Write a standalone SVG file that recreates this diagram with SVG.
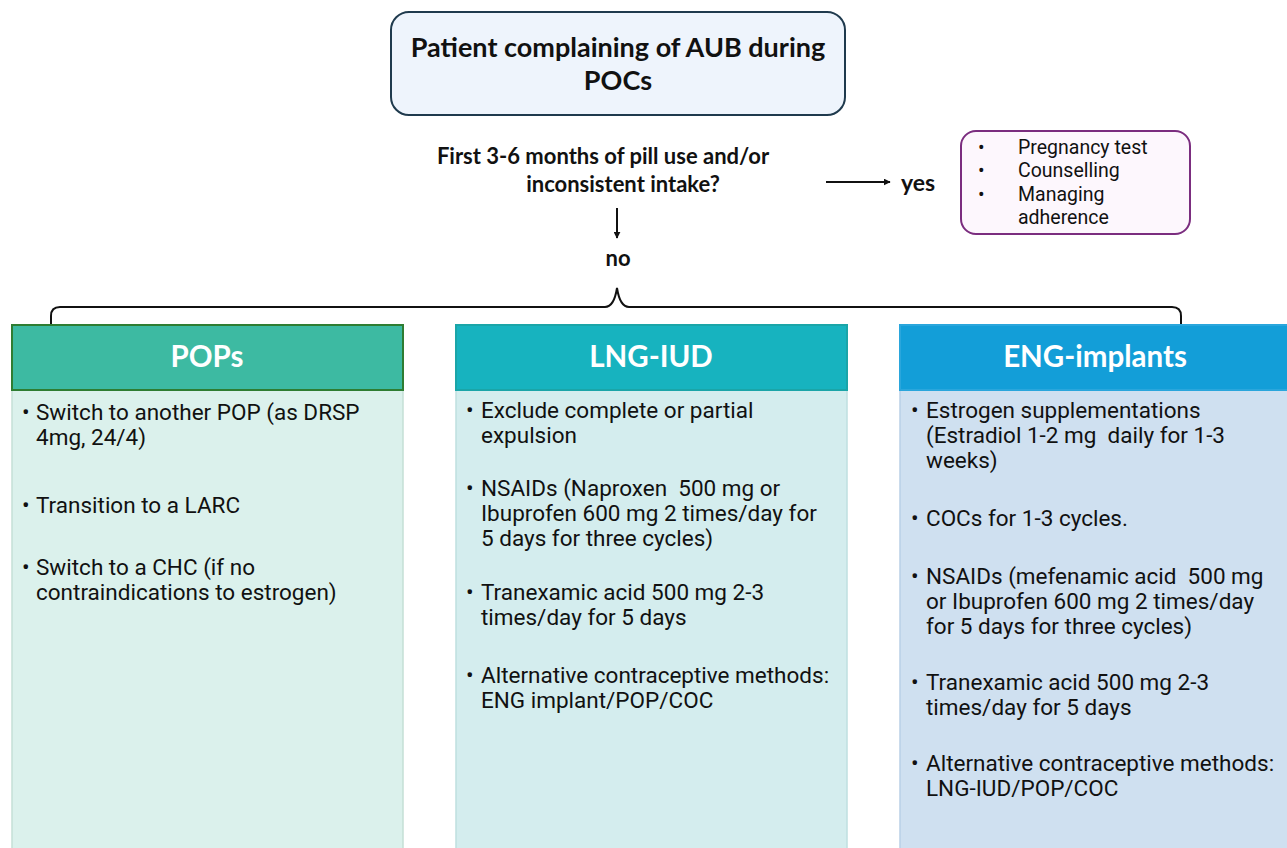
<svg xmlns="http://www.w3.org/2000/svg" width="1287" height="848" viewBox="0 0 1287 848">
<defs>
<marker id="ah" viewBox="0 0 10 10" refX="9" refY="5" markerWidth="7" markerHeight="7" orient="auto" markerUnits="userSpaceOnUse">
<path d="M0,0 L10,5 L0,10 Z" fill="#111"/>
</marker>
<style>
.hd{font-family:Lato,"Open Sans",sans-serif;font-weight:bold;fill:#111;text-anchor:middle}
.ht{font-family:Lato,"Open Sans",sans-serif;font-weight:bold;fill:#fff;text-anchor:middle;font-size:29.5px}
.bt{font-family:Roboto,"Liberation Sans",sans-serif;font-size:22.5px;fill:#111}
.st{font-family:Roboto,"Liberation Sans",sans-serif;font-size:19.5px;fill:#111}
.ln{fill:none;stroke:#111;stroke-width:2}
</style>
</defs>
<rect width="1287" height="848" fill="#fff"/>

<g id="start">
<rect x="391" y="12" width="454" height="103" rx="18" fill="#eef4fc" stroke="#1f3a4d" stroke-width="2"/>
<text class="hd" font-size="27" x="618" y="57">Patient complaining of AUB during</text>
<text class="hd" font-size="27" x="618" y="90">POCs</text>
</g>

<g id="question">
<text class="hd" font-size="22" x="603" y="164">First 3-6 months of pill use and/or</text>
<text class="hd" font-size="22" x="623" y="192">inconsistent intake?</text>
</g>

<g id="yes-label"><text class="hd" font-size="23" x="918" y="191">yes</text></g>
<g id="no-label"><text class="hd" font-size="22" x="618" y="266">no</text></g>

<g id="yes-box">
<rect x="961" y="131" width="229" height="103" rx="15" fill="#fdf7fd" stroke="#7b2d7f" stroke-width="2"/>
<text class="st" x="978" y="154">•</text><text class="st" x="1018" y="154">Pregnancy test</text>
<text class="st" x="978" y="177">•</text><text class="st" x="1018" y="177">Counselling</text>
<text class="st" x="978" y="201">•</text><text class="st" x="1018" y="201">Managing</text>
<text class="st" x="1018" y="224">adherence</text>
</g>

<g id="connectors">
<line class="ln" x1="826" y1="182" x2="890" y2="182" stroke-width="1.6" marker-end="url(#ah)"/>
<line class="ln" x1="617" y1="208" x2="617" y2="238" stroke-width="1.6" marker-end="url(#ah)"/>
<path class="ln" d="M51,325 L51,316 Q51,307 60,307 L605,307 Q614,307 617,288 Q620,307 629,307 L1172,307 Q1181,307 1181,316 L1181,325"/>
</g>

<g id="pops">
<rect x="12" y="390" width="391" height="470" fill="#dbf1ec" stroke="#c5dfd6" stroke-width="1.5"/>
<rect x="12" y="325" width="391" height="65" fill="#3dbaa2" stroke="#2e7d32" stroke-width="2"/>
<text class="ht" x="207" y="367">POPs</text>
<text class="bt" x="22" y="420">•</text><text class="bt" x="36" y="420">Switch to another POP (as DRSP</text>
<text class="bt" x="36" y="445">4mg, 24/4)</text>
<text class="bt" x="22" y="513">•</text><text class="bt" x="36" y="513">Transition to a LARC</text>
<text class="bt" x="22" y="575">•</text><text class="bt" x="36" y="575">Switch to a CHC (if no</text>
<text class="bt" x="36" y="600">contraindications to estrogen)</text>
</g>

<g id="lng-iud">
<rect x="456" y="390" width="391" height="470" fill="#d4edee" stroke="#bfdfe0" stroke-width="1.5"/>
<rect x="456" y="325" width="391" height="65" fill="#17b3bf" stroke="#1aa5a8" stroke-width="2"/>
<text class="ht" x="651" y="367">LNG-IUD</text>
<text class="bt" x="466" y="418">•</text><text class="bt" x="481" y="418">Exclude complete or partial</text>
<text class="bt" x="481" y="443">expulsion</text>
<text class="bt" x="466" y="496">•</text><text class="bt" x="481" y="496" xml:space="preserve">NSAIDs (Naproxen  500 mg or</text>
<text class="bt" x="481" y="521">Ibuprofen 600 mg 2 times/day for</text>
<text class="bt" x="481" y="546">5 days for three cycles)</text>
<text class="bt" x="466" y="600">•</text><text class="bt" x="481" y="600">Tranexamic acid 500 mg 2-3</text>
<text class="bt" x="481" y="625">times/day for 5 days</text>
<text class="bt" x="466" y="683">•</text><text class="bt" x="481" y="683">Alternative contraceptive methods:</text>
<text class="bt" x="481" y="708">ENG implant/POP/COC</text>
</g>

<g id="eng-implants">
<rect x="900" y="390" width="400" height="470" fill="#cfe0f0" stroke="#b9d0e6" stroke-width="1.5"/>
<rect x="900" y="325" width="400" height="65" fill="#139ed8" stroke="#2aa6dc" stroke-width="2"/>
<text class="ht" x="1095" y="367">ENG-implants</text>
<text class="bt" x="911" y="418">•</text><text class="bt" x="926" y="418">Estrogen supplementations</text>
<text class="bt" x="926" y="443" xml:space="preserve">(Estradiol 1-2 mg  daily for 1-3</text>
<text class="bt" x="926" y="468">weeks)</text>
<text class="bt" x="911" y="526">•</text><text class="bt" x="926" y="526">COCs for 1-3 cycles.</text>
<text class="bt" x="911" y="584">•</text><text class="bt" x="926" y="584" xml:space="preserve">NSAIDs (mefenamic acid  500 mg</text>
<text class="bt" x="926" y="609">or Ibuprofen 600 mg 2 times/day</text>
<text class="bt" x="926" y="634">for 5 days for three cycles)</text>
<text class="bt" x="911" y="690">•</text><text class="bt" x="926" y="690">Tranexamic acid 500 mg 2-3</text>
<text class="bt" x="926" y="715">times/day for 5 days</text>
<text class="bt" x="911" y="771">•</text><text class="bt" x="926" y="771">Alternative contraceptive methods:</text>
<text class="bt" x="926" y="796">LNG-IUD/POP/COC</text>
</g>
</svg>
